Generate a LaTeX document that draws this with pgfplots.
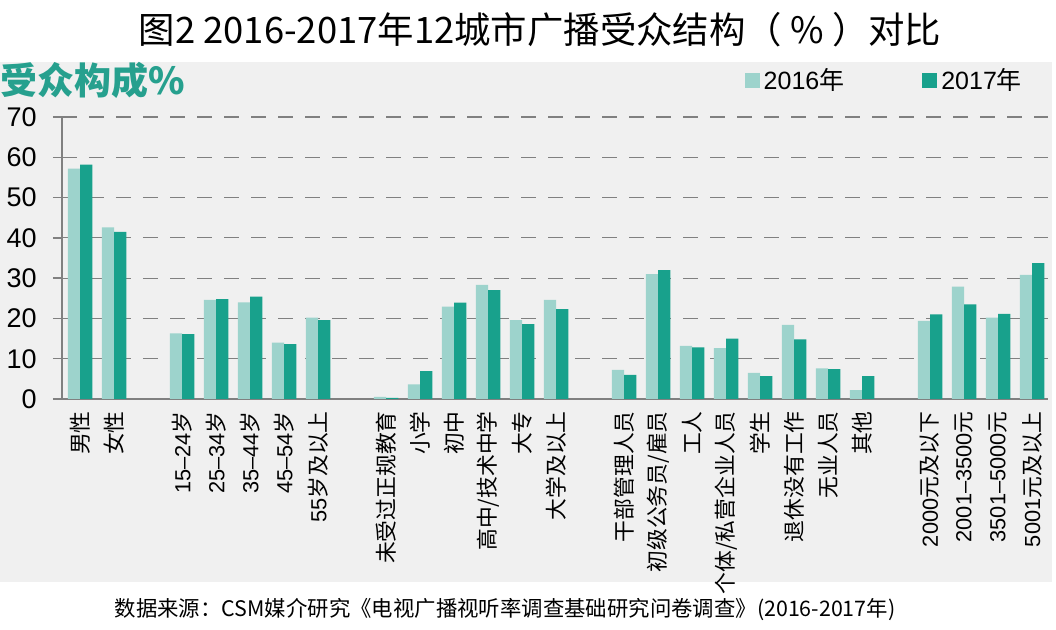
\documentclass[border=0pt]{standalone}
\usepackage{fontspec}
\usepackage{pgfplots}
\pgfplotsset{compat=1.18}
\setmainfont{Noto Sans CJK SC}
\newfontfamily\ar{Liberation Sans}
\definecolor{c16}{RGB}{157,211,204}
\definecolor{c17}{RGB}{24,161,140}
\definecolor{panel}{RGB}{240,240,240}
\definecolor{tealt}{RGB}{38,160,142}
\definecolor{axgray}{RGB}{128,128,128}
\begin{document}
\begin{tikzpicture}
\useasboundingbox (0,0) rectangle (528pt,315pt);
\fill[white] (0,0) rectangle (528pt,315pt);
\fill[panel] (0,24pt) rectangle (526pt,284pt);
\node[font=\fontsize{18.2pt}{21pt}\selectfont] at (270pt,300pt) {图2 2016-2017年12城市广播受众结构（ \% ）对比};
\node[anchor=west, inner sep=0pt, text=tealt, font=\fontsize{18.5pt}{21pt}\selectfont\bfseries] at (0pt,275pt) {受众构成\%};
\node[font=\fontsize{10.7pt}{12pt}\selectfont] at (252.5pt,10pt) {数据来源：CSM媒介研究《电视广播视听率调查基础研究问卷调查》(2016-2017年)};
\begin{axis}[
  scale only axis, width=493pt, height=141pt,
  at={(31pt,115.5pt)}, anchor=south west,
  xmin=-0.53, xmax=28.47, ymin=0, ymax=70,
  axis x line*=bottom, axis y line*=left,
  axis line style={draw=axgray, line width=0.75pt},
  ytick={0,10,...,70},
  ymajorgrids,
  major grid style={dash pattern=on 7.5pt off 6pt, draw=axgray, line width=0.6pt},
  tick align=outside, major tick length=4.5pt,
  ytick style={draw=axgray, line width=0.75pt},
  xtick style={draw=none},
  /pgf/number format/assume math mode=true,
  yticklabel style={font=\ar\fontsize{13.5pt}{15pt}\selectfont, inner sep=0pt, xshift=-8pt},
  xtick={0,1,3,4,5,6,7,9,10,11,12,13,14,16,17,18,19,20,21,22,23,25,26,27,28},
  xticklabels={男性,女性,{\ar 15–24}岁,{\ar 25–34}岁,{\ar 35–44}岁,{\ar 45–54}岁,{\ar 55}岁及以上,
    未受过正规教育,小学,初中,高中/技术中学,大专,大学及以上,
    干部管理人员,初级公务员/雇员,工人,个体/私营企业人员,学生,退休没有工作,无业人员,其他,
    {\ar 2000}元及以下,{\ar 2001–3500}元,{\ar 3501–5000}元,{\ar 5001}元及以上},
  xticklabel style={rotate=90, anchor=east, font=\fontsize{10.9pt}{12pt}\selectfont, inner sep=0pt, xshift=-1.5pt},
  ybar, bar width=0.36,
  legend style={at={(0.692,1.131)}, anchor=west, draw=none, fill=none, legend columns=2,
    font=\fontsize{12.5pt}{14pt}\selectfont, inner sep=0pt,
    /tikz/every even column/.append style={column sep=37pt}},
  legend image code/.code={\fill[#1] (0pt,-3.75pt) rectangle (7.5pt,3.75pt);},
]
\addplot[fill=c16, draw=none, bar shift=-0.18] coordinates {
(0,57.2) (1,42.6) (3,16.3) (4,24.6) (5,24.0) (6,14.0) (7,20.2)
(9,0.5) (10,3.6) (11,22.9) (12,28.3) (13,19.6) (14,24.6)
(16,7.2) (17,31.0) (18,13.2) (19,12.6) (20,6.5) (21,18.4) (22,7.6) (23,2.2)
(25,19.4) (26,27.9) (27,20.2) (28,30.8)};
\addplot[fill=c17, draw=none, bar shift=0.18] coordinates {
(0,58.2) (1,41.5) (3,16.1) (4,24.8) (5,25.4) (6,13.6) (7,19.6)
(9,0.3) (10,6.9) (11,23.9) (12,27.0) (13,18.6) (14,22.3)
(16,6.0) (17,32.0) (18,12.8) (19,15.0) (20,5.7) (21,14.8) (22,7.4) (23,5.7)
(25,21.0) (26,23.5) (27,21.1) (28,33.7)};
\legend{{\ar 2016}年,{\ar 2017}年}
\end{axis}
\end{tikzpicture}
\end{document}
